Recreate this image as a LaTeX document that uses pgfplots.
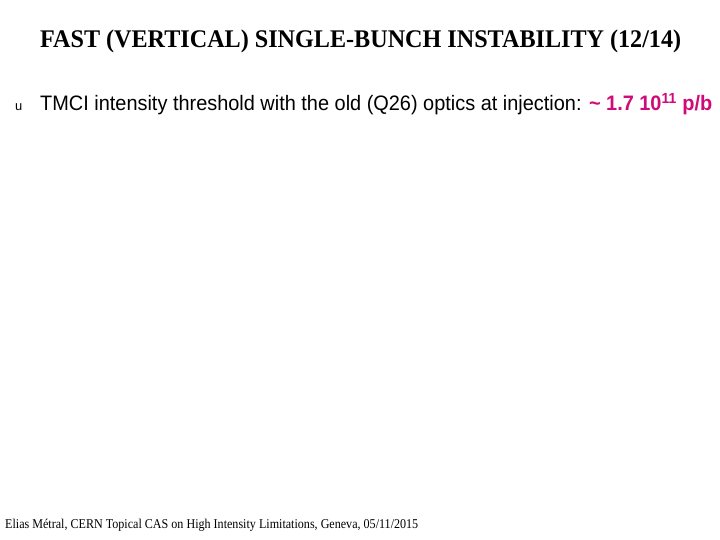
\documentclass[border=0pt]{standalone}
\usepackage{pgfplots}
\pgfplotsset{compat=1.18}
\usepackage{graphicx}
\usepackage{fontspec}
\setmainfont{Liberation Serif}
\newfontfamily\arial{Liberation Sans}
\definecolor{slidemag}{RGB}{208,10,120}
\begin{document}
\begin{tikzpicture}
\begin{axis}[
    width=720bp, height=540bp, scale only axis,
    xmin=0, xmax=720, ymin=0, ymax=540,
    y dir=reverse,
    hide axis, clip=false,
]
\path[fill=white] (rel axis cs:0,0) rectangle (rel axis cs:1,1);
% title
\node[anchor=base west, inner sep=0pt] at (axis cs:40,48)
  {\resizebox{641bp}{\height}{\fontsize{25.5}{28}\selectfont\bfseries FAST (VERTICAL) SINGLE-BUNCH INSTABILITY (12/14)}};
% bullet
\node[anchor=base west, inner sep=0pt] at (axis cs:15,111)
  {\arial\fontsize{13}{15}\selectfont u};
\node[anchor=base west, inner sep=0pt] at (axis cs:40,111)
  {\resizebox{672bp}{\height}{\arial\fontsize{21}{24}\selectfont TMCI intensity threshold with the old (Q26) optics at injection: \textcolor{slidemag}{\bfseries \char"007E{} 1.7 10\textsuperscript{11} p/b}}};
% footer
\node[anchor=base west, inner sep=0pt] at (axis cs:5,528)
  {\resizebox{413bp}{\height}{\fontsize{13.5}{15}\selectfont Elias Métral, CERN Topical CAS on High Intensity Limitations, Geneva, 05/11/2015}};
\end{axis}
\end{tikzpicture}
\end{document}
